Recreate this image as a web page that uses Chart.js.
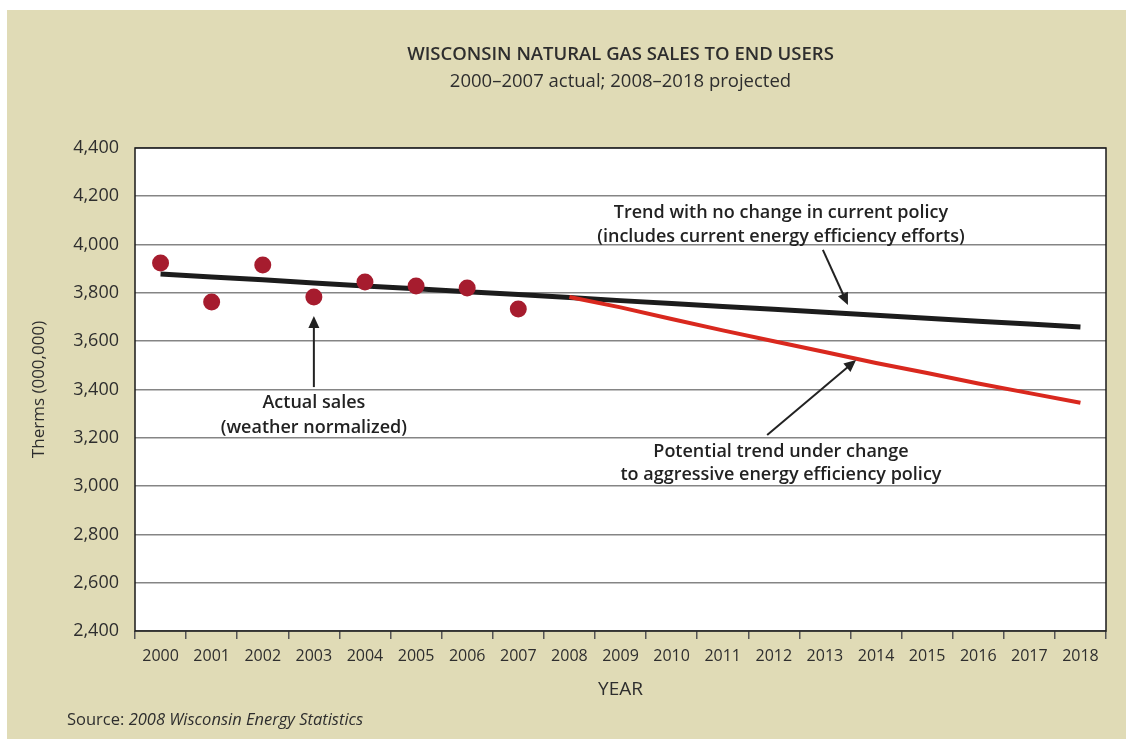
<!DOCTYPE html>
<html>
<head>
<meta charset="utf-8">
<title>Wisconsin natural gas sales to end users</title>
<script src="https://cdn.jsdelivr.net/npm/chart.js@4"></script>
<style>
  html, body { margin: 0; padding: 0; background: #ffffff; }
  #wrap { position: relative; width: 1126px; height: 739px; }
</style>
</head>
<body>
<div id="wrap"><canvas id="gas-chart"></canvas></div>
<script>
// chart data
const years = ['2000', '2001', '2002', '2003', '2004', '2005', '2006', '2007', '2008', '2009',
  '2010', '2011', '2012', '2013', '2014', '2015', '2016', '2017', '2018'];
const actualSales = [3924, 3762, 3916, 3783, 3845, 3829, 3820, 3733];
const trendNoChange = [3878, 3866, 3854, 3841, 3829, 3817, 3805, 3793, 3781, 3768,
  3756, 3744, 3732, 3720, 3707, 3695, 3683, 3671, 3659];
const trendAggressive = [null, null, null, null, null, null, null, null, 3783, 3740,
  3692, 3645, 3600, 3555, 3510, 3468, 3425, 3385, 3345];
const yTicks = [2400, 2600, 2800, 3000, 3200, 3400, 3600, 3800, 4000, 4200, 4400];

const titleText = 'WISCONSIN NATURAL GAS SALES TO END USERS';
const subtitleText = '2000\u20132007 actual; 2008\u20132018 projected';

// callouts in data coordinates (category index, therms)
const notes = [
  { lines: ['Actual sales', '(weather normalized)'], x: 3, y: [3344, 3241],
    arrow: { from: [3, 3410], to: [3, 3704] } },
  { lines: ['Trend with no change in current policy', '(includes current energy efficiency efforts)'],
    x: 12.14, y: [4131, 4031], arrow: { from: [12.96, 3978], to: [13.45, 3750] } },
  { lines: ['Potential trend under change', 'to aggressive energy efficiency policy'],
    x: 12.14, y: [3141, 3046], arrow: { from: [11.87, 3212], to: [13.61, 3522] } }
];

const FONT = '"Open Sans", "Noto Sans", sans-serif';
const BEIGE = '#e0dbb6';
const TEXT = '#2e2e2e';

// beige panel, title block, source line and plot border
const framePlugin = {
  id: 'frame',
  beforeDraw(chart) {
    const ctx = chart.ctx;
    ctx.save();
    ctx.fillStyle = BEIGE;
    ctx.fillRect(7, 10, chart.width - 7, chart.height - 10);
    const a = chart.chartArea;
    ctx.fillStyle = '#ffffff';
    ctx.fillRect(a.left, a.top, a.right - a.left, a.bottom - a.top);
    ctx.restore();
  },
  afterDraw(chart) {
    const ctx = chart.ctx;
    const a = chart.chartArea;
    const cx = (a.left + a.right) / 2;
    ctx.save();
    ctx.fillStyle = TEXT;
    ctx.textAlign = 'center';
    ctx.textBaseline = 'middle';
    ctx.font = '600 18.5px ' + FONT;
    ctx.fillText(titleText, cx, 55);
    ctx.font = '18.5px ' + FONT;
    ctx.fillText(subtitleText, cx, 82);

    ctx.textAlign = 'left';
    ctx.font = '16.5px ' + FONT;
    ctx.fillText('Source: ', 67, 720);
    const w = ctx.measureText('Source: ').width;
    ctx.font = 'italic 16.5px ' + FONT;
    ctx.fillText('2008 Wisconsin Energy Statistics', 67 + w, 720);

    ctx.strokeStyle = '#1a1a1a';
    ctx.lineWidth = 1.5;
    ctx.strokeRect(a.left, a.top, a.right - a.left, a.bottom - a.top);
    ctx.restore();
  }
};

function drawArrow(ctx, x1, y1, x2, y2) {
  const ang = Math.atan2(y2 - y1, x2 - x1);
  const head = 12, half = 5.5;
  const cos = Math.cos(ang), sin = Math.sin(ang);
  ctx.beginPath();
  ctx.moveTo(x1, y1);
  ctx.lineTo(x2 - cos * head * 0.8, y2 - sin * head * 0.8);
  ctx.stroke();
  ctx.beginPath();
  ctx.moveTo(x2, y2);
  ctx.lineTo(x2 - cos * head - sin * half, y2 - sin * head + cos * half);
  ctx.lineTo(x2 - cos * head + sin * half, y2 - sin * head - cos * half);
  ctx.closePath();
  ctx.fill();
}

const notesPlugin = {
  id: 'notes',
  afterDatasetsDraw(chart) {
    const ctx = chart.ctx;
    const xs = chart.scales.x, ys = chart.scales.y;
    ctx.save();
    ctx.fillStyle = '#222222';
    ctx.strokeStyle = '#222222';
    ctx.lineWidth = 2;
    ctx.textAlign = 'center';
    ctx.textBaseline = 'middle';
    ctx.font = '600 18px ' + FONT;
    notes.forEach(n => {
      const px = xs.getPixelForValue(n.x);
      n.lines.forEach((line, i) => ctx.fillText(line, px, ys.getPixelForValue(n.y[i])));
      const f = n.arrow.from, t = n.arrow.to;
      drawArrow(ctx, xs.getPixelForValue(f[0]), ys.getPixelForValue(f[1]),
        xs.getPixelForValue(t[0]), ys.getPixelForValue(t[1]));
    });
    ctx.restore();
  }
};

const canvas = document.getElementById('gas-chart');
canvas.width = 1126;
canvas.height = 739;

new Chart(canvas.getContext('2d'), {
  type: 'line',
  data: {
    labels: years,
    datasets: [
      {
        label: 'Actual sales',
        data: actualSales,
        showLine: false,
        pointRadius: 8.5,
        pointHoverRadius: 8.5,
        pointBackgroundColor: '#a61c2e',
        pointBorderWidth: 0,
        order: 0
      },
      {
        label: 'Potential trend under aggressive policy',
        data: trendAggressive,
        borderColor: '#d9281e',
        borderWidth: 4,
        pointRadius: 0,
        tension: 0,
        order: 1
      },
      {
        label: 'Trend with no change in current policy',
        data: trendNoChange,
        borderColor: '#1c1c1c',
        borderWidth: 5,
        pointRadius: 0,
        tension: 0,
        order: 2
      }
    ]
  },
  options: {
    responsive: false,
    animation: false,
    layout: { padding: { top: 148, right: 20, bottom: 28, left: 0 } },
    plugins: {
      legend: { display: false },
      tooltip: { enabled: false }
    },
    scales: {
      x: {
        offset: true,
        grid: {
          offset: true,
          drawOnChartArea: false,
          drawTicks: true,
          tickLength: 8,
          color: '#555555',
          lineWidth: 1.5
        },
        border: { display: false },
        ticks: { color: TEXT, font: { family: FONT, size: 16 }, padding: 8, maxRotation: 0, autoSkip: false },
        title: {
          display: true,
          text: 'YEAR',
          color: TEXT,
          font: { family: FONT, size: 19 },
          padding: { top: 0, bottom: 10 }
        },
        afterFit(scale) { scale.height = 80; }
      },
      y: {
        min: 2400,
        max: 4400,
        afterBuildTicks(scale) { scale.ticks = yTicks.map(v => ({ value: v })); },
        grid: { color: '#858585', lineWidth: 1.6, drawTicks: false },
        border: { display: false },
        ticks: {
          color: TEXT,
          font: { family: FONT, size: 18 },
          padding: 16,
          callback: v => v.toLocaleString('en-US')
        },
        title: {
          display: true,
          text: 'Therms (000,000)',
          color: TEXT,
          font: { family: FONT, size: 17 },
          padding: { top: 29, bottom: 0 }
        },
        afterFit(scale) { scale.width = 135; }
      }
    }
  },
  plugins: [framePlugin, notesPlugin]
});
</script>
</body>
</html>
